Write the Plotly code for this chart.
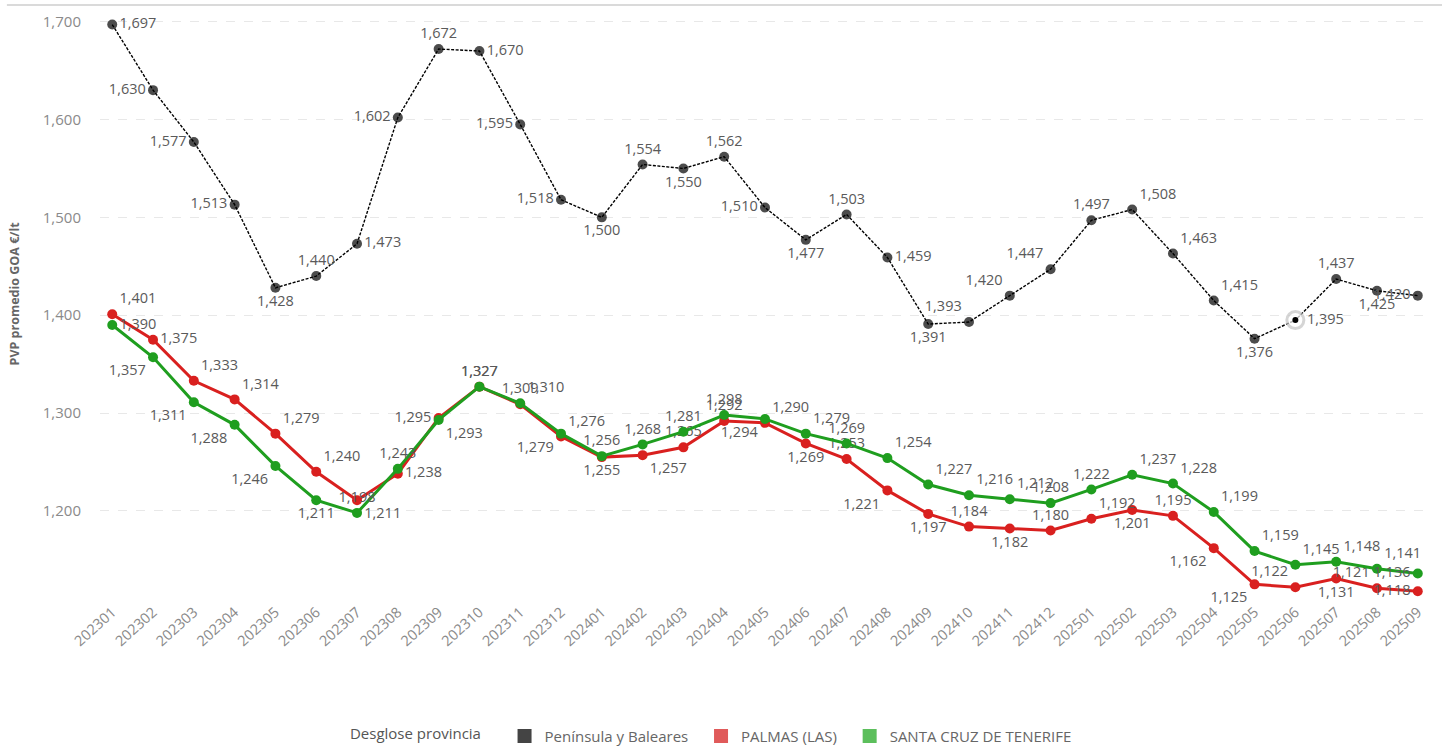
import plotly.graph_objects as go

periods = ["202301","202302","202303","202304","202305","202306","202307","202308","202309","202310","202311","202312",
           "202401","202402","202403","202404","202405","202406","202407","202408","202409","202410","202411","202412",
           "202501","202502","202503","202504","202505","202506","202507","202508","202509"]

peninsula = [1697,1630,1577,1513,1428,1440,1473,1602,1672,1670,1595,1518,
             1500,1554,1550,1562,1510,1477,1503,1459,1391,1393,1420,1447,
             1497,1508,1463,1415,1376,1395,1437,1425,1420]
palmas = [1401,1375,1333,1314,1279,1240,1211,1238,1295,1327,1309,1276,
          1255,1257,1265,1292,1290,1269,1253,1221,1197,1184,1182,1180,
          1192,1201,1195,1162,1125,1122,1131,1121,1118]
tenerife = [1390,1357,1311,1288,1246,1211,1198,1243,1293,1327,1310,1279,
            1256,1268,1281,1298,1294,1279,1269,1254,1227,1216,1212,1208,
            1222,1237,1228,1199,1159,1145,1148,1141,1136]

series_names = ["Península y Baleares", "PALMAS (LAS)", "SANTA CRUZ DE TENERIFE"]
legend_title = "Desglose provincia"
y_title = "PVP promedio GOA €/lt"
highlight_period = "202506"

pos_pen = ["middle right","middle left","middle left","middle left","bottom center","top center","middle right",
           "middle left","top center","middle right","middle left","middle left","bottom center","top center",
           "bottom center","top center","middle left","bottom center","top center","middle right","bottom center",
           "top left","top left","top left","top center","top right","top right","top right","bottom center",
           "middle right","top center","bottom center","middle left"]
pos_pal = ["top right","middle right","top right","top right","top right","top right","bottom right","middle right",
           "middle left","top center","top center","top right","bottom center","bottom right","top center","top center",
           "top right","bottom center","top center","bottom left","bottom center","top center","bottom center",
           "top center","top right","bottom center","top center","bottom left","bottom left","top left","bottom center",
           "top left","middle left"]
pos_ten = ["middle right","bottom left","bottom left","bottom left","bottom left","bottom center","top center",
           "top center","bottom right","top center","top right","bottom left","top center","top center","top center",
           "top center","bottom left","top right","top center","top right","top right","top right","top right",
           "top center","top center","top right","top right","top right","top right","top right","top right",
           "top right","middle left"]

FONT = "Open Sans"
colors = ["#000000", "#d9201f", "#1f9e1f"]
legend_colors = ["#444444", "#e05a5a", "#5cbf5c"]
label_font = dict(family=FONT, size=14.5, color="#5a5a5a")

fig = go.Figure()

hl = periods.index(highlight_period)
pen_size = [10] * len(periods)
pen_lw = [0] * len(periods)
pen_lc = ["#000000"] * len(periods)
pen_fill = ["#000000"] * len(periods)
pen_size[hl] = 17
pen_lw[hl] = 3
pen_lc[hl] = "#c4c4c4"
pen_fill[hl] = "#ffffff"

fig.add_trace(go.Scatter(
    x=periods, y=palmas, mode="lines+markers+text", name=series_names[1],
    line=dict(color=colors[1], width=3), marker=dict(color=colors[1], size=10),
    text=[f"{v:,}" for v in palmas], textposition=pos_pal, textfont=label_font,
    showlegend=False, cliponaxis=False))
fig.add_trace(go.Scatter(
    x=periods, y=tenerife, mode="lines+markers+text", name=series_names[2],
    line=dict(color=colors[2], width=3), marker=dict(color=colors[2], size=10),
    text=[f"{v:,}" for v in tenerife], textposition=pos_ten, textfont=label_font,
    showlegend=False, cliponaxis=False))
fig.add_trace(go.Scatter(
    x=periods, y=peninsula, mode="lines+markers+text", name=series_names[0],
    line=dict(color=colors[0], width=1.4, dash="3px,1.5px"),
    marker=dict(color=pen_fill, size=pen_size, line=dict(color=pen_lc, width=pen_lw)),
    text=[f"{v:,}" for v in peninsula], textposition=pos_pen, textfont=label_font,
    showlegend=False, cliponaxis=False))
# selected-point centre dot
fig.add_trace(go.Scatter(
    x=[periods[hl]], y=[peninsula[hl]], mode="markers",
    marker=dict(color="#000000", size=6), showlegend=False, hoverinfo="skip", cliponaxis=False))

nb = "\u00a0\u00a0"
for name, c in zip(series_names, legend_colors):
    fig.add_trace(go.Scatter(x=[None], y=[None], mode="markers", name=name + nb,
                             marker=dict(symbol="square", size=14, color=c)))

fig.update_layout(
    width=1442, height=746,
    paper_bgcolor="white", plot_bgcolor="white",
    margin=dict(l=100, r=12, t=5, b=146, autoexpand=False),
    font=dict(family=FONT, size=14, color="#777777"),
    showlegend=True,
    legend=dict(orientation="h", x=0.4635, xanchor="center", y=-0.229, yanchor="middle",
                title=dict(text=legend_title + nb + nb, font=dict(size=15, color="#555555")),
                font=dict(size=15, color="#666666"), itemwidth=30),
    xaxis=dict(type="category", range=[-0.3, 32.3], tickangle=-42, showgrid=False, automargin=False,
               zeroline=False, showline=False, tickfont=dict(size=14.5, color="#8a8a8a"), ticks=""),
    yaxis=dict(range=[1109, 1717], tickvals=[1200,1300,1400,1500,1600,1700], tickformat=",",
               showgrid=True, gridcolor="#e8e8e8", griddash="dash", zeroline=False, showline=False,
               automargin=False, ticklabelstandoff=18,
               tickfont=dict(size=15, color="#8a8a8a"), ticks=""),
    shapes=[dict(type="line", xref="paper", yref="paper", x0=-0.07, x1=1.01, y0=1.0, y1=1.0,
                 line=dict(color="#dadada", width=2))],
    annotations=[dict(text="<b>" + y_title + "</b>", xref="paper", yref="paper",
                      x=-0.064, y=0.515, xanchor="center", yanchor="middle",
                      textangle=-90, showarrow=False,
                      font=dict(family=FONT, size=12.5, color="#666666"))],
)

fig.write_html("out.html", config={"displayModeBar": False},
               post_script="document.body.style.margin='0';document.body.style.overflow='hidden';")
